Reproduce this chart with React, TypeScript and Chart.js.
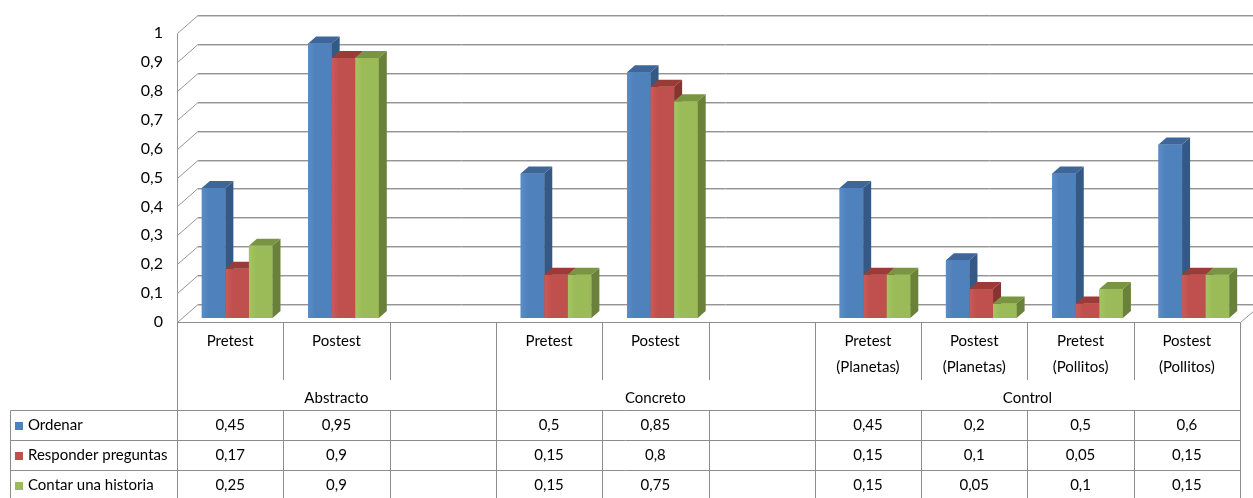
import React, { useEffect, useRef } from "react";
import { Chart, registerables } from "chart.js";

Chart.register(...registerables);

// ---- data ----
const categories: string[][] = [
  ["Pretest"],
  ["Postest"],
  [""],
  ["Pretest"],
  ["Postest"],
  [""],
  ["Pretest", "(Planetas)"],
  ["Postest", "(Planetas)"],
  ["Pretest", "(Pollitos)"],
  ["Postest", "(Pollitos)"],
];
const groupNames = ["Abstracto", "Concreto", "Control"];
const groupSpans = [3, 3, 4];
const seriesNames = ["Ordenar", "Responder preguntas", "Contar una historia"];
const ordenar = [0.45, 0.95, null, 0.5, 0.85, null, 0.45, 0.2, 0.5, 0.6];
const responder = [0.17, 0.9, null, 0.15, 0.8, null, 0.15, 0.1, 0.05, 0.15];
const contar = [0.25, 0.9, null, 0.15, 0.75, null, 0.15, 0.05, 0.1, 0.15];
const yMin = 0;
const yMax = 1;
const yStep = 0.1;

// ---- styles ----
const FONT = "Lato, 'Open Sans', sans-serif";
const FRONT = ["#4F81BD", "#C0504D", "#9BBB59"];
const FRONT_LIGHT = ["#5A8CC8", "#CA5B58", "#A5C563"];
const TOP = ["#3E6699", "#9B3B38", "#7A9542"];
const SIDE = ["#355985", "#873331", "#698139"];
const BAR_SHIFT = { x: 7, y: -4 };
const BAR_DEPTH = { x: 8, y: -7 };
const WALL = { x: 21, y: -18 };
const LINE = "#8c8c8c";

const fmt = (v: number | null) =>
  v === null ? "" : String(Math.round(v * 100) / 100).replace(".", ",");

const threeD = {
  id: "threeD",
  beforeDatasetsDraw(chart: any) {
    const ctx: CanvasRenderingContext2D = chart.ctx;
    const ca = chart.chartArea;
    const y = chart.scales.y;
    ctx.save();
    for (let v = yMin; v <= yMax + 1e-9; v += yStep) {
      const py = Math.round(y.getPixelForValue(v));
      const bx = ca.left + WALL.x;
      const by = py + WALL.y;
      ctx.strokeStyle = "#cfcfcf";
      ctx.lineWidth = 1;
      ctx.beginPath();
      ctx.moveTo(bx, by + 1.5);
      ctx.lineTo(chart.width, by + 1.5);
      ctx.stroke();
      ctx.strokeStyle = "#959595";
      ctx.beginPath();
      ctx.moveTo(ca.left + 0.5, py + 0.5);
      ctx.lineTo(bx, by + 0.5);
      ctx.lineTo(chart.width, by + 0.5);
      ctx.stroke();
    }
    ctx.strokeStyle = "#959595";
    ctx.beginPath();
    ctx.moveTo(ca.left + 0.5, Math.round(y.getPixelForValue(yMax)) + 0.5);
    ctx.lineTo(ca.left + 0.5, Math.round(y.getPixelForValue(yMin)) + 0.5);
    ctx.stroke();
    const fy = Math.round(y.getPixelForValue(yMin)) + 0.5;
    ctx.beginPath();
    ctx.moveTo(ca.right + 0.5, fy);
    ctx.lineTo(ca.right + 0.5 + WALL.x, fy + WALL.y);
    ctx.stroke();
    ctx.restore();

    ctx.save();
    ctx.translate(BAR_SHIFT.x, BAR_SHIFT.y);
  },
  afterDatasetsDraw(chart: any) {
    const ctx: CanvasRenderingContext2D = chart.ctx;
    const n = categories.length;
    for (let i = 0; i < n; i++) {
      for (let d = 0; d < chart.data.datasets.length; d++) {
        const val = chart.data.datasets[d].data[i];
        if (val === null || val === undefined) continue;
        const el = chart.getDatasetMeta(d).data[i];
        const l = el.x - el.width / 2;
        const r = el.x + el.width / 2;
        const t = el.y;
        const b = el.base;
        const g = ctx.createLinearGradient(l, 0, r, 0);
        g.addColorStop(0, FRONT_LIGHT[d]);
        g.addColorStop(0.3, FRONT[d]);
        g.addColorStop(1, FRONT[d]);
        ctx.fillStyle = g;
        ctx.fillRect(l, t, r - l, b - t);
        ctx.fillStyle = TOP[d];
        ctx.beginPath();
        ctx.moveTo(l, t);
        ctx.lineTo(r, t);
        ctx.lineTo(r + BAR_DEPTH.x, t + BAR_DEPTH.y);
        ctx.lineTo(l + BAR_DEPTH.x, t + BAR_DEPTH.y);
        ctx.closePath();
        ctx.fill();
        ctx.fillStyle = SIDE[d];
        ctx.beginPath();
        ctx.moveTo(r, t);
        ctx.lineTo(r + BAR_DEPTH.x, t + BAR_DEPTH.y);
        ctx.lineTo(r + BAR_DEPTH.x, b + BAR_DEPTH.y);
        ctx.lineTo(r, b);
        ctx.closePath();
        ctx.fill();
      }
    }
    ctx.restore();
  },
  afterDraw(chart: any) {
    const ctx: CanvasRenderingContext2D = chart.ctx;
    const ca = chart.chartArea;
    const n = categories.length;
    const w = (ca.right - ca.left) / n;
    const bx = (k: number) => Math.round(ca.left + k * w) + 0.5;
    const cx = (k: number) => ca.left + (k + 0.5) * w;
    const floorY = Math.round(chart.scales.y.getPixelForValue(yMin)) + 0.5;
    const headDivEnd = 380;
    const rowTops = [410, 440, 470];
    const rowH = 30;
    const bottom = chart.height;
    const legendLeft = 10.5;

    ctx.save();
    ctx.strokeStyle = LINE;
    ctx.lineWidth = 1;
    ctx.beginPath();
    ctx.moveTo(bx(0), floorY);
    ctx.lineTo(bx(n), floorY);
    ctx.stroke();
    const groupStarts: number[] = [];
    let acc = 0;
    groupSpans.forEach((s) => {
      groupStarts.push(acc);
      acc += s;
    });
    for (let k = 0; k <= n; k++) {
      const isGroup = k === n || groupStarts.includes(k);
      ctx.beginPath();
      if (isGroup) {
        ctx.moveTo(bx(k), floorY);
        ctx.lineTo(bx(k), bottom);
      } else {
        ctx.moveTo(bx(k), floorY);
        ctx.lineTo(bx(k), headDivEnd);
        ctx.moveTo(bx(k), rowTops[0]);
        ctx.lineTo(bx(k), bottom);
      }
      ctx.stroke();
    }
    rowTops.forEach((ry) => {
      ctx.beginPath();
      ctx.moveTo(legendLeft, ry + 0.5);
      ctx.lineTo(bx(n), ry + 0.5);
      ctx.stroke();
    });
    ctx.beginPath();
    ctx.moveTo(legendLeft, rowTops[0] + 0.5);
    ctx.lineTo(legendLeft, bottom);
    ctx.stroke();

    ctx.fillStyle = "#000";
    ctx.font = `15px ${FONT}`;
    ctx.textAlign = "center";
    ctx.textBaseline = "middle";
    categories.forEach((lines, k) => {
      lines.forEach((ln, j) => {
        ctx.fillText(ln, cx(k), 341 + j * 26);
      });
    });
    groupNames.forEach((g, gi) => {
      const s = groupStarts[gi];
      const e = s + groupSpans[gi];
      ctx.fillText(g, (ca.left + s * w + ca.left + e * w) / 2, 398);
    });
    const series = chart.data.datasets.map((d: any) => d.data);
    seriesNames.forEach((name, r) => {
      const yc = rowTops[r] + rowH / 2 + 0.5;
      ctx.fillStyle = FRONT[r];
      ctx.fillRect(15, Math.round(yc - 4), 8, 8);
      ctx.fillStyle = "#000";
      ctx.textAlign = "left";
      ctx.fillText(name, 28, yc);
      ctx.textAlign = "center";
      series[r].forEach((v: number | null, k: number) => {
        ctx.fillText(fmt(v), cx(k), yc);
      });
    });
    ctx.restore();
  },
};

export default function App() {
  const ref = useRef<HTMLCanvasElement | null>(null);
  useEffect(() => {
    if (!ref.current) return;
    const chart = new Chart(ref.current, {
      type: "bar",
      data: {
        labels: categories.map((c) => c.join(" ")),
        datasets: [
          { label: seriesNames[0], data: ordenar, backgroundColor: FRONT[0] },
          { label: seriesNames[1], data: responder, backgroundColor: FRONT[1] },
          { label: seriesNames[2], data: contar, backgroundColor: FRONT[2] },
        ],
      },
      options: {
        animation: false,
        responsive: true,
        maintainAspectRatio: false,
        datasets: { bar: { barPercentage: 1, categoryPercentage: 0.665, clip: false } as any },
        layout: { padding: { left: 0, top: 33, right: 13, bottom: 176 } },
        plugins: { legend: { display: false }, tooltip: { enabled: false } },
        scales: {
          x: { display: false },
          y: {
            min: yMin,
            max: yMax,
            afterFit: (s: any) => {
              s.width = 177;
            },
            grid: { display: false, drawTicks: false },
            border: { display: false },
            ticks: {
              stepSize: yStep,
              padding: 14,
              color: "#000",
              font: { family: FONT, size: 16 },
              callback: (v: any) => fmt(Number(v)),
            },
          },
        },
      },
      plugins: [threeD],
    });
    return () => chart.destroy();
  }, []);
  return (
    <div style={{ position: "absolute", left: 0, top: 0, width: 1253, height: 498 }}>
      <canvas ref={ref} />
    </div>
  );
}
